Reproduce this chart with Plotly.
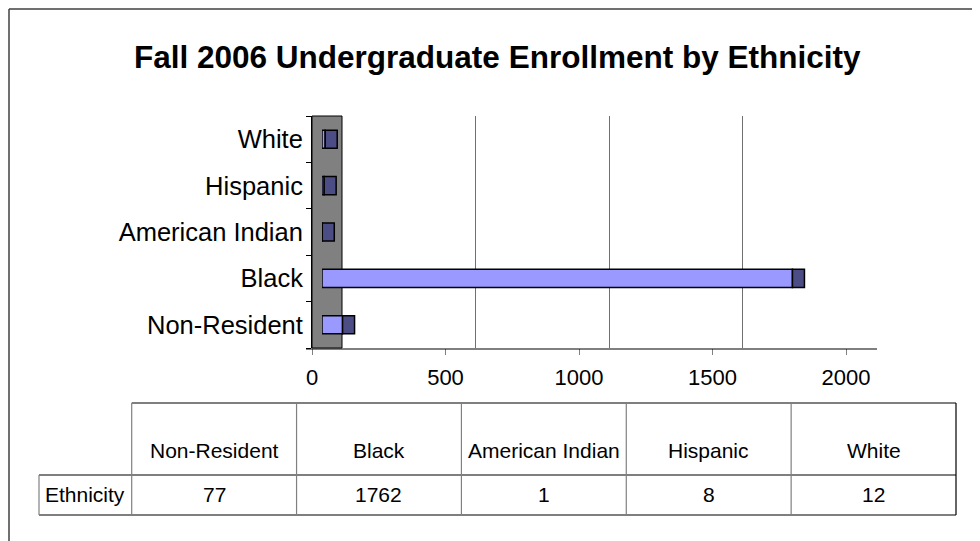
import plotly.graph_objects as go

# ---- data ----
categories = ["Non-Resident", "Black", "American Indian", "Hispanic", "White"]
values = [77, 1762, 1, 8, 12]
series_name = "Ethnicity"
x_ticks = [0, 500, 1000, 1500, 2000]
title_text = "Fall 2006 Undergraduate Enrollment by Ethnicity"

# The page body has an 8px margin, so the figure is placed at (8, 8).
OFF = 8
W, H = 980 - OFF, 541 - OFF
FONT = "Arial, Liberation Sans, sans-serif"


def px(x):
    return (x - OFF) / W


def py(y):
    return 1 - (y - OFF) / H


# 3-D look: front plane, bar plane, back plane offsets (page px)
X_FRONT0, X_BAR0, X_BACK0 = 312, 322, 342
SPAN = 534  # px for 0..2000
Y_TOP, Y_BOT = 116, 348
CAP_UNITS = 12 / (SPAN / 2000)

fig = go.Figure()

# invisible trace so the front (labelled) axis subplot exists
fig.add_trace(go.Scatter(x=[None], y=[categories[0]], xaxis="x", yaxis="y",
                         showlegend=False, hoverinfo="skip"))
# invisible trace for the back-plane grid subplot
fig.add_trace(go.Scatter(x=[None], y=[categories[0]], xaxis="x2", yaxis="y",
                         showlegend=False, hoverinfo="skip"))
# front-face of bars
fig.add_trace(go.Bar(
    x=values, y=categories, orientation="h", xaxis="x3", yaxis="y",
    marker=dict(color="#9999FF", line=dict(color="black", width=1.5)),
    width=0.39, showlegend=False, hoverinfo="skip",
))
# end caps (3-D depth)
fig.add_trace(go.Bar(
    x=[CAP_UNITS] * len(values), base=values, y=categories, orientation="h",
    xaxis="x3", yaxis="y",
    marker=dict(color="#4D4D86", line=dict(color="black", width=1.5)),
    width=0.39, showlegend=False, hoverinfo="skip",
))

shapes = []
# gray side wall
shapes.append(dict(type="rect", xref="paper", yref="paper",
                   x0=px(X_FRONT0), x1=px(X_BACK0), y0=py(Y_BOT), y1=py(Y_TOP),
                   fillcolor="#808080", line=dict(color="black", width=1), layer="below"))
# floor line
shapes.append(dict(type="line", xref="paper", yref="paper",
                   x0=px(X_FRONT0 - 6), x1=px(X_BACK0 + SPAN + 1), y0=py(349), y1=py(349),
                   line=dict(color="black", width=1)))
# outer chart border (left + top)
shapes.append(dict(type="line", xref="paper", yref="paper",
                   x0=px(OFF + 1), x1=px(OFF + 1), y0=py(OFF + 1), y1=0,
                   line=dict(color="#404040", width=1.5)))
shapes.append(dict(type="line", xref="paper", yref="paper",
                   x0=px(OFF + 1), x1=1, y0=py(OFF + 1), y1=py(OFF + 1),
                   line=dict(color="#404040", width=1.5)))

# ---- data table ----
T_LEFT, COL_W = 131.7, 164.86
T_TOP, T_MID, T_BOT = 403, 475, 515
LBL_LEFT = 39
T_RIGHT = T_LEFT + COL_W * len(categories)


def hline(x0, x1, y, color="black"):
    shapes.append(dict(type="line", xref="paper", yref="paper",
                       x0=px(x0), x1=px(x1), y0=py(y), y1=py(y),
                       line=dict(color=color, width=1.2)))


def vline(x, y0, y1, color="#808080"):
    shapes.append(dict(type="line", xref="paper", yref="paper",
                       x0=px(x), x1=px(x), y0=py(y0), y1=py(y1),
                       line=dict(color=color, width=1.2)))


hline(T_LEFT, T_RIGHT, T_TOP)
hline(LBL_LEFT, T_RIGHT, T_MID)
hline(LBL_LEFT, T_RIGHT, T_BOT)
vline(LBL_LEFT, T_MID, T_BOT)
for i in range(len(categories)):
    vline(T_LEFT + COL_W * i, T_TOP, T_BOT)
vline(T_RIGHT, T_TOP, T_BOT, "black")

annotations = []
annotations.append(dict(text="<b>" + title_text + "</b>", xref="paper", yref="paper",
                        x=px(497), y=py(57.5), xanchor="center", yanchor="middle",
                        showarrow=False, font=dict(family=FONT, size=31.5, color="black")))
for i, (c, v) in enumerate(zip(categories, values)):
    cx = T_LEFT + COL_W * (i + 0.5)
    annotations.append(dict(text=c, xref="paper", yref="paper", x=px(cx), y=py(450),
                            xanchor="center", yanchor="middle", showarrow=False,
                            font=dict(family=FONT, size=21, color="black")))
    annotations.append(dict(text=str(v), xref="paper", yref="paper", x=px(cx), y=py(494),
                            xanchor="center", yanchor="middle", showarrow=False,
                            font=dict(family=FONT, size=21, color="black")))
annotations.append(dict(text=series_name, xref="paper", yref="paper",
                        x=px((LBL_LEFT + T_LEFT) / 2), y=py(494),
                        xanchor="center", yanchor="middle", showarrow=False,
                        font=dict(family=FONT, size=21, color="black")))

fig.update_layout(
    width=W, height=H, autosize=False,
    margin=dict(l=0, r=0, t=0, b=0, pad=0, autoexpand=False),
    paper_bgcolor="white", plot_bgcolor="rgba(0,0,0,0)",
    barmode="overlay",
    font=dict(family=FONT, color="black"),
    xaxis=dict(domain=[px(X_FRONT0), px(X_FRONT0 + SPAN)], range=[0, 2000],
               tickvals=x_ticks, ticks="outside", ticklen=6, tickcolor="#808080",
               ticklabelstandoff=4,
               showgrid=False, zeroline=False, showline=False, anchor="y",
               tickfont=dict(size=22, family=FONT, color="black")),
    xaxis2=dict(domain=[px(X_BACK0), px(X_BACK0 + SPAN)], range=[0, 2000],
                tickvals=x_ticks, showticklabels=False, ticks="",
                showgrid=True, gridcolor="#707070", gridwidth=1.3,
                zeroline=False, showline=False, anchor="y"),
    xaxis3=dict(domain=[px(X_BAR0), px(X_BAR0 + SPAN)], range=[0, 2000],
                visible=False, anchor="y"),
    yaxis=dict(domain=[py(Y_BOT), py(Y_TOP)], type="category",
               categoryorder="array", categoryarray=categories,
               tickson="boundaries", ticks="outside", ticklen=5, tickcolor="black",
               ticklabelstandoff=3,
               showgrid=False, zeroline=False, showline=True, linecolor="black",
               anchor="x", tickfont=dict(size=25.5, family=FONT, color="black")),
    shapes=shapes, annotations=annotations,
)

fig.write_html("out.html", config={"displayModeBar": False, "responsive": False})
